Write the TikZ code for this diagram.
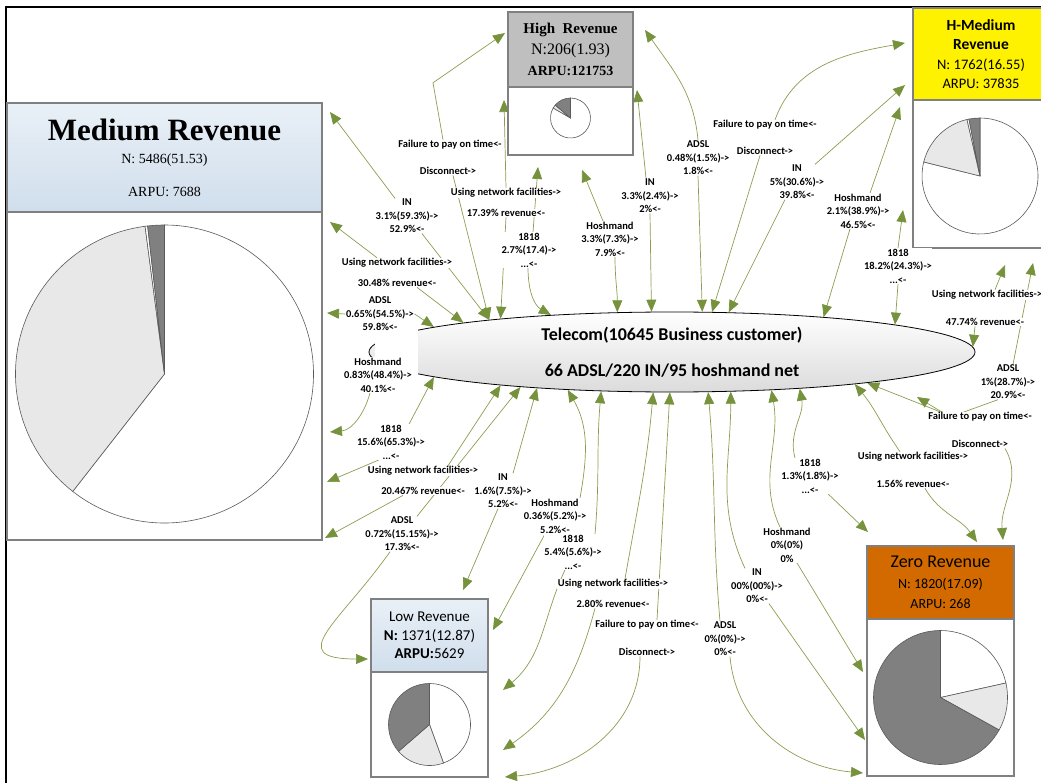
\documentclass[tikz,border=0pt]{standalone}
\usepackage{fontspec}
\setmainfont{Carlito}
\newfontfamily\serifhead{Liberation Serif}
\usetikzlibrary{arrows.meta,calc,positioning,shapes.geometric}
\definecolor{linkgreen}{RGB}{138,158,80}
\definecolor{tipgreen}{RGB}{118,146,60}
\definecolor{boxgray}{RGB}{128,128,128}
\definecolor{headblue}{RGB}{208,222,236}
\definecolor{headbluetop}{RGB}{233,240,247}
\definecolor{headgray}{RGB}{191,191,191}
\definecolor{headyellow}{RGB}{255,242,0}
\definecolor{headorange}{RGB}{211,106,0}
\definecolor{pielight}{RGB}{232,232,232}
\definecolor{piedark}{RGB}{128,128,128}
\definecolor{pieline}{RGB}{90,90,90}
\pgfdeclarelayer{bg}
\pgfsetlayers{bg,main}
\newcommand\lblfont{\fontsize{10.5}{13.5}\selectfont\bfseries}
\newcommand\pieslice[5]{\filldraw[fill=#5,draw=pieline,line width=0.6pt] (#1) -- ++(#3:#2) arc[start angle=#3,end angle=#4,radius=#2] -- cycle;}

\begin{document}
\begin{tikzpicture}[x=1pt,y=1pt,
  seghead/.style={draw=boxgray,line width=1.2pt,inner sep=0pt,outer sep=0pt,align=center,anchor=north west},
  segbody/.style={draw=boxgray,line width=1.2pt,fill=white,inner sep=0pt,outer sep=0pt},
  lbl/.style={font=\lblfont,align=center,fill=white,inner sep=0.5pt},
  link/.style={draw=linkgreen,line width=0.7pt,-{Triangle[length=12pt,width=10pt,color=tipgreen]}}]
\useasboundingbox (0,0) rectangle (1041,-783);
\draw[line width=1.6pt] (6,-783) -- (6,-7) -- (1041,-7);

% segment boxes
\node[seghead,top color=headbluetop,bottom color=headblue,minimum width=315pt,minimum height=109pt,font=\serifhead\fontsize{14}{16}\selectfont] (medH) at (7,-103) {{\fontsize{31}{31}\selectfont\bfseries Medium Revenue}\\[7pt]N: 5486(51.53)\\[17pt]ARPU: 7688};
\node[segbody,minimum width=315pt,minimum height=328pt,below=0pt of medH] (medB) {};

\node[seghead,fill=headgray,minimum width=125pt,minimum height=75pt,font=\serifhead\fontsize{16}{21}\selectfont] (highH) at (508,-12) {{\fontsize{15}{21}\selectfont\bfseries High\ \ Revenue}\\N:206(1.93)\\{\fontsize{14}{21}\selectfont\bfseries ARPU:121753}};
\node[segbody,minimum width=125pt,minimum height=68pt,below=0pt of highH] (highB) {};

\node[seghead,fill=headyellow,minimum width=136pt,minimum height=92pt,font=\fontsize{14.5}{19.5}\selectfont] (hmH) at (913,-8) {{\fontsize{15.5}{19.5}\selectfont\bfseries H-Medium}\\{\fontsize{15.5}{19.5}\selectfont\bfseries Revenue}\\N: 1762(16.55)\\ARPU: 37835};
\node[segbody,minimum width=136pt,minimum height=148pt,below=0pt of hmH] (hmB) {};

\node[seghead,top color=headbluetop,bottom color=headblue,minimum width=117pt,minimum height=73pt,font=\fontsize{15}{18.5}\selectfont] (lowH) at (371,-599) {Low Revenue\\\textbf{N:} 1371(12.87)\\\textbf{ARPU:}5629};
\node[segbody,minimum width=117pt,minimum height=105pt,below=0pt of lowH] (lowB) {};

\node[seghead,fill=headorange,minimum width=147pt,minimum height=73pt,font=\fontsize{14}{20.5}\selectfont] (zeroH) at (867,-546) {{\fontsize{18}{20.5}\selectfont Zero Revenue}\\N: 1820(17.09)\\ARPU: 268};
\node[segbody,minimum width=147pt,minimum height=157pt,below=0pt of zeroH] (zeroB) {};

% pies
\coordinate (medPie) at ($(medB.center)+(0,2)$);
\pieslice{medPie}{149pt}{232}{450}{white}
\pieslice{medPie}{149pt}{97.5}{232}{pielight}
\pieslice{medPie}{149pt}{96.5}{97.5}{white}
\pieslice{medPie}{149pt}{90}{96.5}{piedark}
\coordinate (highPie) at ($(highB.center)+(0,3)$);
\pieslice{highPie}{20pt}{150}{450}{white}
\pieslice{highPie}{20pt}{140}{150}{pielight}
\pieslice{highPie}{20pt}{90}{140}{piedark}
\coordinate (hmPie) at ($(hmB.center)+(-1,-2)$);
\pieslice{hmPie}{58pt}{166}{450}{white}
\pieslice{hmPie}{58pt}{103}{166}{pielight}
\pieslice{hmPie}{58pt}{101}{103}{white}
\pieslice{hmPie}{58pt}{90}{101}{piedark}
\coordinate (lowPie) at (lowB.center);
\pieslice{lowPie}{41pt}{-70}{90}{white}
\pieslice{lowPie}{41pt}{221}{290}{pielight}
\pieslice{lowPie}{41pt}{90}{221}{piedark}
\coordinate (zeroPie) at (zeroB.center);
\pieslice{zeroPie}{67pt}{12.5}{90}{white}
\pieslice{zeroPie}{67pt}{-29}{12.5}{pielight}
\pieslice{zeroPie}{67pt}{90}{331}{piedark}

% hub
\node[ellipse,draw=black,line width=0.8pt,top color=white,bottom color=black!14,minimum width=606pt,minimum height=80pt,inner sep=0pt,align=center,font=\fontsize{18}{36}\selectfont\bfseries] (tel) at (672,-352) {Telecom(10645 Business customer)\\66 ADSL/220 IN/95 hoshmand net};
\fill[white] (375,-329) rectangle (418,-376);

% labels, Medium side
\node[lbl] (medIN) at (407,-216) {IN\\3.1\%(59.3\%)->\\52.9\%<-};
\node[lbl] (medUse1) at (397,-263) {Using network facilities->};
\node[lbl] (medRev1) at (397,-283) {30.48\% revenue<-};
\node[lbl] (medADSL) at (380,-314) {ADSL\\0.65\%(54.5\%)->\\59.8\%<-};
\node[lbl] (medHosh) at (378,-375) {Hoshmand\\0.83\%(48.4\%)->\\40.1\%<-};
\node[lbl] (med1818) at (391,-442) {1818\\15.6\%(65.3\%)->\\...<-};
\node[lbl] (medUse2) at (423,-471) {Using network facilities->};
\node[lbl] (medRev2) at (423,-491) {20.467\% revenue<-};
% labels, High
\node[lbl] (highFail) at (450,-145) {Failure to pay on time<-};
\node[lbl] (highDisc) at (448,-171) {Disconnect->};
\node[lbl] (highUse) at (506,-193) {Using network facilities->};
\node[lbl] (highRev) at (506,-213) {17.39\% revenue<-};
\node[lbl] (high1818) at (529,-250) {1818\\2.7\%(17.4)->\\...<-};
\node[lbl] (highHosh) at (610,-239) {Hoshmand\\3.3\%(7.3\%)->\\7.9\%<-};
\node[lbl] (highIN) at (650,-196) {IN\\3.3\%(2.4\%)->\\2\%<-};
\node[lbl] (highADSL) at (698,-158) {ADSL\\0.48\%(1.5\%)->\\1.8\%<-};
% labels, H-Medium
\node[lbl] (hmFail) at (765,-125) {Failure to pay on time<-};
\node[lbl] (hmDisc) at (765,-151) {Disconnect->};
\node[lbl] (hmIN) at (797,-182) {IN\\5\%(30.6\%)->\\39.8\%<-};
\node[lbl] (hmHosh) at (858,-211) {Hoshmand\\2.1\%(38.9\%)->\\46.5\%<-};
\node[lbl] (hm1818) at (898,-266) {1818\\18.2\%(24.3\%)->\\...<-};
\node[lbl] (hmUse) at (987,-295) {Using network facilities->};
\node[lbl] (hmRev) at (985,-322) {47.74\% revenue<-};
\node[lbl] (hmADSL) at (1008,-382) {ADSL\\1\%(28.7\%)->\\20.9\%<-};
% labels, Zero
\node[lbl] (zeroFail) at (980,-417) {Failure to pay on time<-};
\node[lbl] (zeroDisc) at (980,-444) {Disconnect->};
\node[lbl] (zeroUse) at (913,-457) {Using network facilities->};
\node[lbl] (zeroRev) at (913,-484) {1.56\% revenue<-};
\node[lbl] (zero1818) at (810,-476) {1818\\1.3\%(1.8\%)->\\...<-};
\node[lbl] (zeroHosh) at (787,-545) {Hoshmand\\0\%(0\%)\\0\%};
\node[lbl] (zeroIN) at (757,-586) {IN\\00\%(00\%)->\\0\%<-};
\node[lbl] (zeroADSL) at (725,-639) {ADSL\\0\%(0\%)->\\0\%<-};
% labels, Low
\node[lbl] (lowADSL) at (402,-534) {ADSL\\0.72\%(15.15\%)->\\17.3\%<-};
\node[lbl] (lowIN) at (503,-491) {IN\\1.6\%(7.5\%)->\\5.2\%<-};
\node[lbl] (lowHosh) at (555,-516) {Hoshmand\\0.36\%(5.2\%)->\\5.2\%<-};
\node[lbl] (low1818) at (573,-552) {1818\\5.4\%(5.6\%)->\\...<-};
\node[lbl] (lowUse) at (613,-584) {Using network facilities->};
\node[lbl] (lowRev) at (613,-604) {2.80\% revenue<-};
\node[lbl] (lowFail) at (647,-625) {Failure to pay on time<-};
\node[lbl] (lowDisc) at (647,-652) {Disconnect->};
\coordinate (fpEnd) at (917,-397);

\begin{pgfonlayer}{bg}
% Medium links
\draw[link] ([xshift=-12pt]medIN.north) -- ($(medB.north east)+(8,100)$);
\draw[link] ([xshift=15pt]medIN.south) -- (tel.170);
\draw[link] ([xshift=-20pt]medUse1.north) -- ($(medB.north east)+(8,-10)$);
\draw[link] ([xshift=20pt]medRev1.south) -- (tel.172);
\draw[link] (medADSL.west) -- ($(medB.north east)+(5,-101)$);
\draw[link] (medADSL.east) -- (tel.174);
\draw[link] ([xshift=-8pt]medHosh.south) to[out=-105,in=5] ($(medB.north east)+(8,-220)$);
\draw[link] ([xshift=18pt]med1818.north) -- (tel.186);
\draw[link] ([xshift=-12pt]med1818.south) -- ($(medB.north east)+(5,-270)$);
\draw[link] ([xshift=25pt]medUse2.north) -- (tel.191);
\draw[link] ([xshift=-20pt]medRev2.south) -- ($(medB.north east)+(3,-326)$);
% Low links
\draw[link] ([xshift=15pt]lowADSL.north) -- (tel.193);
\draw[link] ([xshift=-12pt]lowADSL.south) to[out=-125,in=180,looseness=2] ($(lowH.south west)+(-3,13)$);
\draw[link] ([xshift=10pt]lowIN.north) -- (tel.195);
\draw[link] ([xshift=-5pt]lowIN.south) -- ($(lowH.north west)+(92,9)$);
\draw[link] ([xshift=25pt]lowHosh.north) to[out=80,in=-60] (tel.200);
\draw[link] ([xshift=-10pt]lowHosh.south) -- ($(lowB.north east)+(5,42)$);
\draw[link] ([xshift=22pt]low1818.north) to[out=85,in=-95] (tel.209);
\draw[link] ([xshift=-8pt]low1818.south) to[out=-115,in=40] ($(lowB.north east)+(15,-18)$);
\draw[link] ([xshift=12pt]lowUse.north) to[out=80,in=-95] (tel.245);
\draw[link] ([xshift=-18pt]lowRev.south) to[out=-105,in=35] ($(lowB.north east)+(15,-78)$);
\draw[link] ([xshift=10pt]lowFail.north) -- (tel.267);
\draw[link] ([xshift=-7pt]lowDisc.south) to[out=-90,in=5] ($(lowB.south east)+(17,0)$);
% High links
\draw[link] ([xshift=-7pt]highFail.north) -- ++(-10,57) -- ($(highH.north west)+(-3,-21)$);
\draw[link] ([xshift=5pt]highDisc.south) -- (tel.170);
\draw[link] (highUse.north) -- ($(highB.north west)+(-4,-13)$);
\draw[link] (highRev.south) -- (tel.169);
\draw[link] ([xshift=4pt]high1818.north) -- ($(highB.south west)+(30,-12)$);
\draw[link] ([xshift=-1pt]high1818.south) to[out=-90,in=150] (tel.163);
\draw[link] ([xshift=-7pt]highHosh.north) -- ($(highB.south west)+(74,-15)$);
\draw[link] ([xshift=5pt]highHosh.south) to[out=-90,in=90] (tel.144);
\draw[link] ([xshift=-4pt]highIN.north) -- ($(highB.north east)+(4,-3)$);
\draw[link] (highIN.south) -- (tel.117);
\draw[link] (highADSL.north) to[out=95,in=-55] ($(highH.north east)+(12,-18)$);
\draw[link] (highADSL.south) -- (tel.53);
% H-Medium links
\draw[link] ([xshift=10pt]hmFail.north) to[out=70,in=190] ($(hmH.north west)+(-8,-35)$);
\draw[link] ([xshift=-5pt]hmDisc.south) -- (tel.45);
\draw[link] ([xshift=18pt]hmIN.north) -- ($(hmH.north west)+(-8,-77)$);
\draw[link] ([xshift=-12pt]hmIN.south) -- (tel.35);
\draw[link] ([xshift=12pt]hmHosh.north) -- ($(hmB.north west)+(-13,-7)$);
\draw[link] ([xshift=-8pt]hmHosh.south) -- (tel.13);
\draw[link] (hm1818.north) -- ($(hmB.south west)+(-10,38)$);
\draw[link] (hm1818.south) -- (tel.7);
\draw[link] ([xshift=8pt]hmUse.north) -- ($(hmB.south west)+(92,-17)$);
\draw[link] ([xshift=-10pt]hmRev.south) -- (tel.1);
\draw[link] ([xshift=5pt]hmADSL.north) -- ($(hmB.south west)+(120,-15)$);
\draw[link] ([xshift=-10pt]hmADSL.south) -- ([xshift=-30pt]zeroFail.center) -- (fpEnd);
% Zero links
\draw[link] ([xshift=-40pt]zeroFail.north) -- (tel.351);
\draw[link] ([xshift=25pt]zeroDisc.south) to[out=-60,in=95] ($(zeroH.north west)+(136,6)$);
\draw[link] ([xshift=-13pt]zeroUse.north) to[out=125,in=-50] (tel.350);
\draw[link] ([xshift=12pt]zeroRev.south) to[out=-60,in=125] ($(zeroH.north west)+(110,4)$);
\draw[link] ([xshift=-15pt]zero1818.north) to[out=105,in=-80] (tel.344);
\draw[link] ([xshift=18pt]zero1818.south) -- ($(zeroH.north west)+(1,14)$);
\draw[link] ([xshift=-7pt]zeroHosh.north) to[out=115,in=-80] (tel.339);
\draw[link] ([xshift=10pt]zeroHosh.south) -- ($(zeroB.north west)+(-4,-53)$);
\draw[link] ([xshift=-12pt]zeroIN.north) to[out=115,in=-90] (tel.326);
\draw[link] ([xshift=12pt]zeroIN.south) -- ($(zeroB.north west)+(-2,-121)$);
\draw[link] ([xshift=-5pt]zeroADSL.north) to[out=95,in=-85] (tel.312);
\draw[link] ([xshift=5pt]zeroADSL.south) to[out=-85,in=175] ($(zeroB.south west)+(-4,3)$);
\end{pgfonlayer}
\end{tikzpicture}
\end{document}
